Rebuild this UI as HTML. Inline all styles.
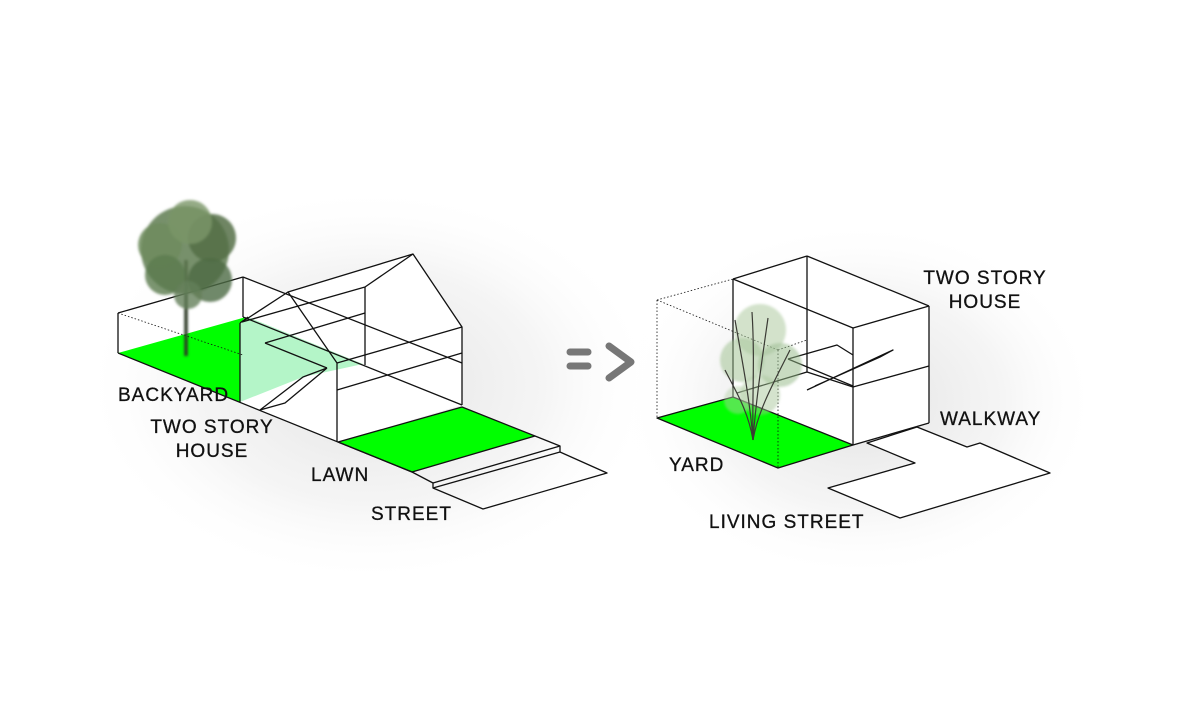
<!DOCTYPE html>
<html><head><meta charset="utf-8"><style>
html,body{margin:0;padding:0;background:#fff;}
svg{display:block}
text{font-family:"Liberation Sans",sans-serif;font-size:19px;fill:#111;letter-spacing:1px;stroke:#111;stroke-width:0.3}
</style></head><body>
<svg width="1200" height="715" viewBox="0 0 1200 715" xmlns="http://www.w3.org/2000/svg">
<defs>
<radialGradient id="sh" cx="50%" cy="50%" r="50%">
<stop offset="0" stop-color="#d2d2d2" stop-opacity="0.65"/>
<stop offset="0.6" stop-color="#e6e6e6" stop-opacity="0.4"/>
<stop offset="1" stop-color="#fff" stop-opacity="0"/>
</radialGradient>
<filter id="bl"><feGaussianBlur stdDeviation="1.2"/></filter>
</defs>
<rect width="1200" height="715" fill="#fff"/>
<ellipse cx="370" cy="385" rx="290" ry="200" fill="url(#sh)"/>
<ellipse cx="860" cy="400" rx="240" ry="180" fill="url(#sh)"/>

<!-- LEFT -->
<g stroke="#111" stroke-width="1.3" fill="none" stroke-linejoin="round">
<polygon points="118,313 243,277 462,363 462,405 337,442 118,353" fill="#fff" stroke="none"/>
<polygon points="288,292 413,254 462,327 462,405 337,442 240,402 242,322" fill="#fff" stroke="none"/>
<polygon points="118,353 246,317 240,323 240,402" fill="#00ff00" stroke="none"/>
<polygon points="240,323 248,317 363,364 303,377 240,402" fill="#b4f5c8" stroke="none"/>
<polygon points="338,442 462,407 535,436 412,472" fill="#00ff00" stroke="#111"/>
<line x1="118" y1="313" x2="118" y2="353"/>
<line x1="118" y1="313" x2="243" y2="277"/>
<line x1="243" y1="277" x2="243" y2="317"/>
<line x1="118" y1="313" x2="243" y2="355" stroke-dasharray="1.5,2" stroke-width="0.8"/>
<line x1="243" y1="277" x2="462" y2="363"/>
<line x1="243" y1="317" x2="462" y2="405"/>
<line x1="118" y1="353" x2="412" y2="472"/>
<line x1="240" y1="323" x2="240" y2="402"/>
<line x1="240" y1="323" x2="248" y2="317"/>
<polyline points="242,322 288,292 337,363 337,442"/>
<line x1="288" y1="292" x2="413" y2="254"/>
<polyline points="365,287 413,254 462,327 462,405"/>
<line x1="365" y1="287" x2="365" y2="365"/>
<line x1="242" y1="322" x2="365" y2="287"/>
<line x1="337" y1="363" x2="462" y2="327"/>
<line x1="337" y1="390" x2="462" y2="353"/>
<line x1="265" y1="343" x2="365" y2="313"/>
<line x1="265" y1="343" x2="327" y2="368"/>
<polyline points="327,368 303,377 260,410 285,403 327,368"/>
<polyline points="412,472 433,483 433,488 483,509 607,473 560,452 560,446 535,436"/>
<line x1="433" y1="483" x2="560" y2="446"/>
<line x1="433" y1="488" x2="560" y2="452"/>
</g>
<!-- left tree -->
<g filter="url(#bl)">
<line x1="186" y1="260" x2="186" y2="356" stroke="#2f3a25" stroke-width="3.5"/>
<circle cx="185" cy="250" r="44" fill="#5f7d52" opacity="0.85"/>
<circle cx="160" cy="245" r="22" fill="#6e8c5e" opacity="0.85"/>
<circle cx="212" cy="238" r="24" fill="#557048" opacity="0.85"/>
<circle cx="190" cy="222" r="22" fill="#7a9668" opacity="0.8"/>
<circle cx="165" cy="275" r="20" fill="#5b7a4e" opacity="0.8"/>
<circle cx="210" cy="280" r="22" fill="#4e6a44" opacity="0.8"/>
<circle cx="188" cy="295" r="14" fill="#64805a" opacity="0.8"/>
</g>

<!-- ARROW -->
<g stroke="#777" stroke-width="7" stroke-linecap="round" fill="none">
<line x1="570" y1="352" x2="588" y2="352"/>
<line x1="570" y1="366" x2="588" y2="366"/>
<polyline points="609,346 631,362 609,378" stroke-linejoin="round"/>
</g>

<!-- RIGHT -->
<g stroke="#111" stroke-width="1.3" fill="none" stroke-linejoin="round">
<polygon points="733,279 807,256 929,306 929,423 853,445 733,397" fill="#fff" stroke="none"/>
<polygon points="867,443 915,463 828,488 900,518 1050,473 980,443 967,447 917,427" fill="#fff"/>
<polygon points="657,418 733,397 853,445 778,468" fill="#00ff00"/>
<g stroke-dasharray="1.5,2" stroke-width="0.8">
<line x1="657" y1="300" x2="733" y2="279"/>
<line x1="657" y1="300" x2="657" y2="418"/>
<line x1="657" y1="300" x2="778" y2="350"/>
<line x1="778" y1="350" x2="778" y2="468"/>
<line x1="778" y1="350" x2="807" y2="340"/>
</g>
<line x1="733" y1="279" x2="807" y2="256"/>
<line x1="807" y1="256" x2="929" y2="306"/>
<line x1="733" y1="279" x2="853" y2="328"/>
<line x1="853" y1="328" x2="929" y2="306"/>
<line x1="733" y1="279" x2="733" y2="397"/>
<line x1="807" y1="256" x2="807" y2="372"/>
<line x1="853" y1="328" x2="853" y2="445"/>
<line x1="929" y1="306" x2="929" y2="423"/>
<line x1="853" y1="445" x2="929" y2="423"/>
<line x1="853" y1="387" x2="929" y2="366"/>
<line x1="737" y1="393" x2="807" y2="372"/>
<line x1="807" y1="372" x2="853" y2="387"/>
<polyline points="788,359 837,345 853,355"/>
<line x1="788" y1="359" x2="853" y2="386"/>
<polyline points="807,390 893,350 880,357 815,386"/>
</g>
<!-- right tree -->
<g filter="url(#bl)" opacity="0.85">
<circle cx="760" cy="330" r="26" fill="#a8c79a" opacity="0.6"/>
<circle cx="742" cy="360" r="22" fill="#9dbf8e" opacity="0.6"/>
<circle cx="780" cy="365" r="22" fill="#93b886" opacity="0.6"/>
<circle cx="760" cy="395" r="20" fill="#a3c394" opacity="0.55"/>
<circle cx="738" cy="400" r="14" fill="#b2cfa6" opacity="0.55"/>
</g>
<g stroke="#3a3a34" stroke-width="1.2" fill="none">
<path d="M753,440 C750,400 742,360 735,320"/>
<path d="M753,440 C756,400 762,360 768,318"/>
<path d="M753,440 C752,400 755,360 752,312"/>
<path d="M753,440 C758,410 775,380 790,350"/>
<path d="M753,440 C748,410 735,390 725,370"/>
</g>

<!-- LABELS -->
<text x="118" y="401">BACKYARD</text>
<text x="212" y="433" text-anchor="middle">TWO STORY</text>
<text x="212" y="457" text-anchor="middle">HOUSE</text>
<text x="311" y="481">LAWN</text>
<text x="371" y="520">STREET</text>
<text x="985" y="284" text-anchor="middle">TWO STORY</text>
<text x="985" y="308" text-anchor="middle">HOUSE</text>
<text x="940" y="425">WALKWAY</text>
<text x="669" y="471">YARD</text>
<text x="709" y="528">LIVING STREET</text>
</svg>
</body></html>
